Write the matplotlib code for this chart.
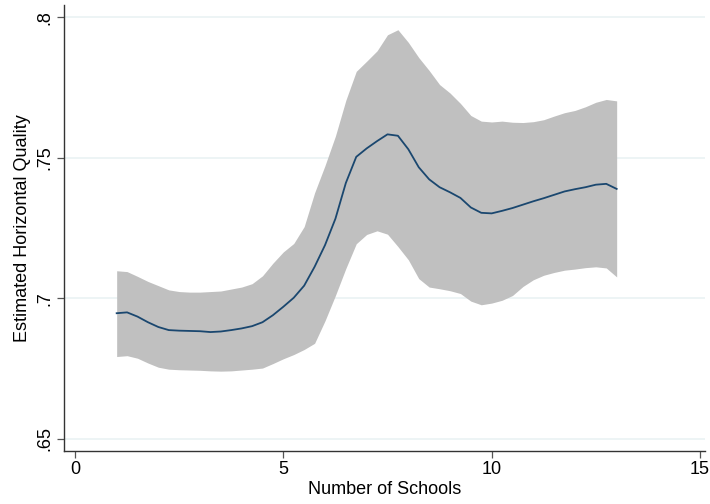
import matplotlib
matplotlib.use("Agg")
import matplotlib.pyplot as plt
import numpy as np

plt.rcParams['font.family'] = ['Liberation Sans', 'DejaVu Sans']

# number of schools grid and fitted quality with its confidence band
schools = np.arange(1, 13.01, 0.25)
fit = [0.6947, 0.6950, 0.6935, 0.6915, 0.6898, 0.6887, 0.6885, 0.6884, 0.6883,
       0.6880, 0.6882, 0.6887, 0.6893, 0.6901, 0.6915, 0.6940, 0.6970, 0.7002,
       0.7045, 0.7112, 0.7189, 0.7283, 0.7410, 0.7503, 0.7533, 0.7559, 0.7583,
       0.7578, 0.7530, 0.7466, 0.7423, 0.7395, 0.7377, 0.7357, 0.7323, 0.7304,
       0.7302, 0.7311, 0.7321, 0.7333, 0.7345, 0.7356, 0.7368, 0.7380, 0.7388,
       0.7395, 0.7404, 0.7407, 0.7389]
upper = [0.7098, 0.7095, 0.7078, 0.7060, 0.7045, 0.7030, 0.7024, 0.7022, 0.7022,
         0.7024, 0.7026, 0.7033, 0.7040, 0.7052, 0.7080, 0.7125, 0.7165, 0.7195,
         0.7255, 0.7375, 0.7472, 0.7577, 0.7704, 0.7807, 0.7843, 0.7880, 0.7937,
         0.7955, 0.7910, 0.7856, 0.7810, 0.7760, 0.7730, 0.7693, 0.7650, 0.7630,
         0.7627, 0.7630, 0.7626, 0.7625, 0.7628, 0.7635, 0.7648, 0.7660, 0.7668,
         0.7681, 0.7697, 0.7707, 0.7702]
lower = [0.6793, 0.6796, 0.6787, 0.6770, 0.6755, 0.6748, 0.6746, 0.6745, 0.6744,
         0.6742, 0.6741, 0.6742, 0.6745, 0.6748, 0.6752, 0.6768, 0.6785, 0.6800,
         0.6818, 0.6840, 0.6920, 0.7010, 0.7106, 0.7194, 0.7227, 0.7240, 0.7228,
         0.7184, 0.7137, 0.7070, 0.7040, 0.7034, 0.7027, 0.7017, 0.6990, 0.6977,
         0.6983, 0.6993, 0.7010, 0.7042, 0.7066, 0.7082, 0.7092, 0.7100, 0.7104,
         0.7109, 0.7112, 0.7108, 0.7076]

xticks = [0, 5, 10, 15]
yticks = [0.65, 0.70, 0.75, 0.80]
ytick_labels = ['.65', '.7', '.75', '.8']

fig = plt.figure(figsize=(7.1, 5.04), dpi=100)
ax = fig.add_axes([64 / 710, 53 / 504, 641 / 710, 446 / 504])

ax.fill_between(schools, lower, upper, color='#c0c0c0', linewidth=0)
ax.plot(schools, fit, color='#1a476f', linewidth=1.3)

ax.set_xlim(-0.264, 15.12)
ax.set_ylim(0.64571, 0.80429)
ax.set_xticks(xticks)
ax.set_yticks(yticks)
ax.set_yticklabels(ytick_labels, rotation=90, va='center')
ax.yaxis.grid(True, color='#eaf2f3', linewidth=1.2)
ax.set_axisbelow(True)

for side in ['top', 'right']:
    ax.spines[side].set_visible(False)
for side in ['left', 'bottom']:
    ax.spines[side].set_linewidth(1.0)
    ax.spines[side].set_color('#333333')

ax.tick_params(direction='out', length=5, width=0.9, color='#555555',
               labelsize=13, pad=2.5)
ax.set_xlabel('Number of Schools', fontsize=13, labelpad=2)
ax.set_ylabel('Estimated Horizontal Quality', fontsize=13, labelpad=4)

fig.savefig('out.png', dpi=100)
